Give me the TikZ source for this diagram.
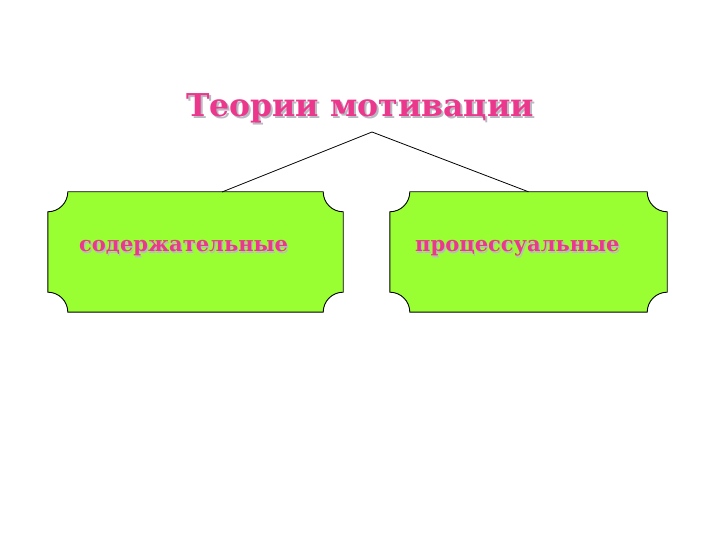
\documentclass[tikz,border=0pt]{standalone}
\usepackage{fontspec}
\newfontfamily\tnr{DejaVu Serif}
\usetikzlibrary{calc}
\definecolor{lime}{RGB}{153,255,51}
\definecolor{pinktxt}{RGB}{236,56,140}
\definecolor{shadowgray}{RGB}{185,185,195}
\newcommand{\shadowed}[2]{\makebox[0pt][l]{\hspace*{#1}\raisebox{-#1}{\textcolor{shadowgray}{#2}}}\textcolor{pinktxt}{#2}}
\tikzset{
  boxshape/.style={minimum height=120pt, inner sep=0pt, draw=none},
  title/.style={font=\tnr\bfseries\fontsize{31.5}{36}\selectfont, inner sep=0pt},
  label/.style={font=\tnr\bfseries\fontsize{21}{25}\selectfont, inner sep=0pt, anchor=base west},
  link/.style={draw=black, line width=0.8pt},
  outline/.style={draw=black, line width=0.9pt, fill=lime}
}
\newcommand{\notchbox}[2]{%
  \path[outline]
    ($(#1.north west)+(#2,0)$) -- ($(#1.north east)+(-#2,0)$)
    arc[start angle=180, end angle=270, radius=#2]
    -- ($(#1.south east)+(0,#2)$)
    arc[start angle=90, end angle=180, radius=#2]
    -- ($(#1.south west)+(#2,0)$)
    arc[start angle=0, end angle=90, radius=#2]
    -- ($(#1.north west)+(0,-#2)$)
    arc[start angle=270, end angle=360, radius=#2]
    -- cycle;}
\begin{document}
\begin{tikzpicture}[x=1pt,y=1pt]
\useasboundingbox[fill=white] (0,0) rectangle (720,540);
% boxes
\node[boxshape, minimum width=295pt] (L) at (195.5,288) {};
\node[boxshape, minimum width=277pt] (R) at (528.5,288) {};
\notchbox{L}{20pt}
\notchbox{R}{20pt}
% title
\node[title, anchor=base] (T) at (360,423) {\shadowed{2pt}{Теории мотивации}};
% connectors
\coordinate (apex) at (372,408);
\coordinate (lt) at (222,348);
\draw[link] (lt) -- (apex) -- (R.north);
% labels
\node[label] (Lt) at (79,288) {\shadowed{1.2pt}{содержательные}};
\node[label] (Rt) at (415,288) {\shadowed{1.2pt}{процессуальные}};
\end{tikzpicture}
\end{document}
